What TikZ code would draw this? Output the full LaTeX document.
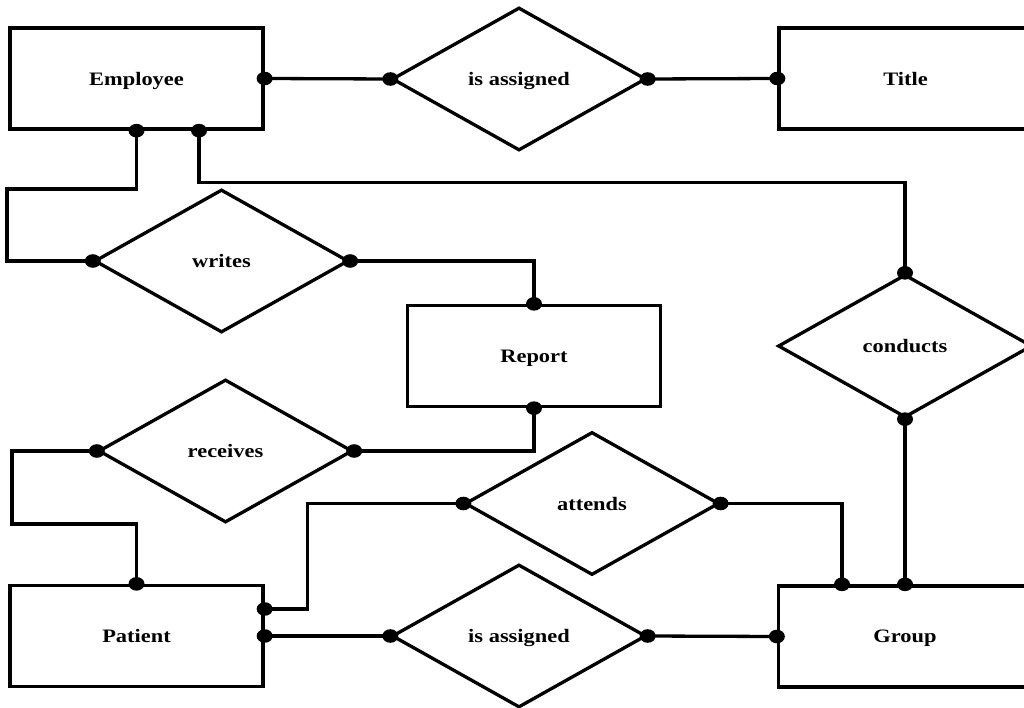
\documentclass[tikz,border=0pt]{standalone}
\usepackage{fontspec}
\setmainfont{Liberation Serif}[FakeStretch=1.18]
\usetikzlibrary{shapes.geometric,calc}

\tikzset{
  entity/.style={draw, line width=3.3pt, minimum width=253pt, minimum height=101pt,
    text depth=0pt, font=\fontsize{19}{22}\selectfont\bfseries},
  relation/.style={draw, diamond, line width=3.3pt, minimum width=254pt, minimum height=143pt,
    inner sep=0pt, text depth=0pt, font=\fontsize{19}{22}\selectfont\bfseries},
  link/.style={line width=3.3pt}
}

\begin{document}
\begin{tikzpicture}[x=1pt,y=-1pt]
  \useasboundingbox (0,0) rectangle (1024,708);

  % Entidades
  \node[entity] (employee) at (136.5,78.5) {Employee};
  \node[entity] (title)    at (905.5,78.5) {Title};
  \node[entity] (report)   at (534,356)    {Report};
  \node[entity] (patient)  at (136.5,636)  {Patient};
  \node[entity] (group)    at (905,636.5)  {Group};

  % Relaciones
  \node[relation] (assignA)  at (519,79)     {is assigned};
  \node[relation] (writes)   at (221.5,261)  {writes};
  \node[relation] (conducts) at (905,346)    {conducts};
  \node[relation] (receives) at (225.5,451)  {receives};
  \node[relation] (attends)  at (592,503.5)  {attends};
  \node[relation] (assignB)  at (519,636)    {is assigned};

  % Puntos de enlace
  \coordinate (empB) at ([xshift=62.5pt]employee.south);
  \coordinate (patA) at ([yshift=27pt]patient.east);
  \coordinate (grpA) at ([xshift=-63pt]group.north);

  % Conectores
  \draw[link] (employee.east) -- (assignA.west);
  \draw[link] (assignA.east) -- (title.west);
  \draw[link] (employee.south) |- (7,189) |- (writes.west);
  \draw[link] (empB) -- ++(0,52) -| (conducts.north);
  \draw[link] (writes.east) -| (report.north);
  \draw[link] (report.south) |- (receives.east);
  \draw[link] (receives.west) -| (12,524) -| (patient.north);
  \draw[link] (patA) -- ++(43,0) |- (attends.west);
  \draw[link] (attends.east) -| (grpA);
  \draw[link] (conducts.south) -- (group.north -| conducts.south);
  \draw[link] (patient.east) -- (assignB.west);
  \draw[link] (assignB.east) -- (group.west);

  % Puntos
  \foreach \p in {employee.east, assignA.west, assignA.east, title.west,
                  employee.south, empB, writes.west, writes.east,
                  report.north, report.south, receives.east, receives.west,
                  patient.north, patA, attends.west, attends.east, grpA,
                  conducts.north, conducts.south, group.north,
                  patient.east, assignB.west, assignB.east, group.west}
    \fill (\p) ellipse [x radius=8, y radius=6.8];
\end{tikzpicture}
\end{document}
